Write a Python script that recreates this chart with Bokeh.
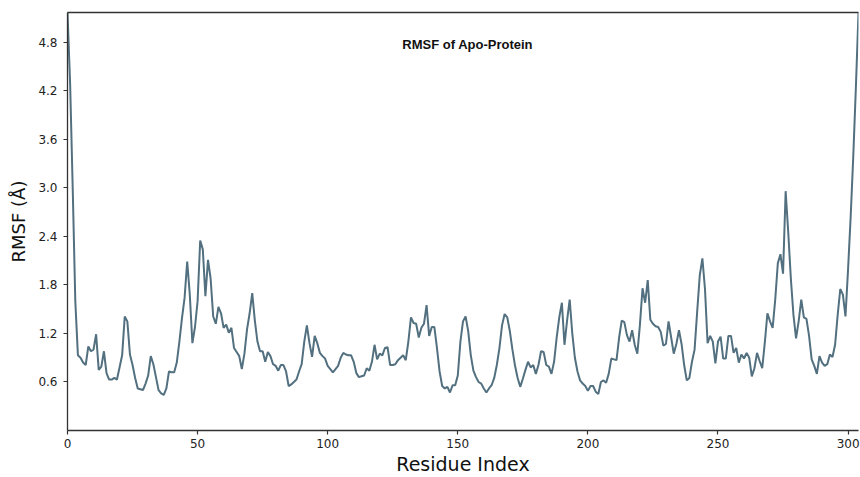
from bokeh.plotting import figure
from bokeh.models import Range1d, FixedTicker, LinearAxis, Label, ColumnDataSource, PrintfTickFormatter
from bokeh.embed import file_html
from bokeh.resources import INLINE

title_text = "RMSF of Apo-Protein"
x_label = "Residue Index"
y_label = "RMSF (Å)"
x_ticks = [0, 50, 100, 150, 200, 250, 300]
y_ticks = [0.6, 1.2, 1.8, 2.4, 3.0, 3.6, 4.2, 4.8]

rmsf = [
    5.17, 4.30, 3.00, 1.60, 0.93, 0.90, 0.84, 0.81, 1.04, 0.98,
    1.00, 1.19, 0.75, 0.79, 0.98, 0.71, 0.63, 0.63, 0.65, 0.63,
    0.78, 0.93, 1.41, 1.35, 0.94, 0.81, 0.65, 0.52, 0.51, 0.50,
    0.58, 0.68, 0.92, 0.82, 0.66, 0.50, 0.46, 0.44, 0.52, 0.73,
    0.72, 0.72, 0.84, 1.10, 1.39, 1.64, 2.09, 1.68, 1.08, 1.28,
    1.60, 2.35, 2.24, 1.66, 2.11, 1.88, 1.41, 1.32, 1.53, 1.45,
    1.27, 1.31, 1.21, 1.27, 1.02, 0.97, 0.92, 0.76, 0.95, 1.25,
    1.45, 1.70, 1.36, 1.10, 0.98, 0.98, 0.85, 0.97, 0.92, 0.82,
    0.80, 0.74, 0.81, 0.81, 0.73, 0.55, 0.57, 0.60, 0.63, 0.73,
    0.82, 1.10, 1.30, 1.08, 0.91, 1.17, 1.08, 0.96, 0.92, 0.89,
    0.80, 0.76, 0.72, 0.76, 0.80, 0.90, 0.96, 0.94, 0.93, 0.93,
    0.85, 0.71, 0.66, 0.67, 0.68, 0.77, 0.74, 0.85, 1.06, 0.88,
    0.95, 0.93, 1.02, 1.03, 0.81, 0.81, 0.82, 0.87, 0.90, 0.93,
    0.87, 1.10, 1.40, 1.33, 1.32, 1.15, 1.27, 1.32, 1.55, 1.17,
    1.28, 1.28, 1.02, 0.73, 0.55, 0.52, 0.54, 0.47, 0.56, 0.56,
    0.68, 1.10, 1.35, 1.41, 1.23, 0.93, 0.74, 0.66, 0.60, 0.58,
    0.52, 0.47, 0.52, 0.56, 0.65, 0.81, 1.02, 1.30, 1.44, 1.40,
    1.23, 1.00, 0.80, 0.65, 0.54, 0.64, 0.75, 0.85, 0.78, 0.81,
    0.70, 0.81, 0.98, 0.97, 0.81, 0.79, 0.70, 0.85, 1.15, 1.40,
    1.58, 1.06, 1.36, 1.62, 1.20, 0.90, 0.73, 0.62, 0.58, 0.55,
    0.49, 0.55, 0.55, 0.48, 0.45, 0.60, 0.62, 0.59, 0.70, 0.89,
    0.88, 0.87, 1.15, 1.36, 1.34, 1.18, 1.10, 1.24, 1.06, 0.95,
    1.31, 1.76, 1.58, 1.86, 1.37, 1.32, 1.29, 1.28, 1.22, 1.05,
    1.07, 1.35, 1.15, 0.95, 1.07, 1.24, 1.07, 0.81, 0.62, 0.65,
    0.85, 1.00, 1.47, 1.92, 2.13, 1.75, 1.08, 1.17, 1.10, 0.83,
    1.10, 1.16, 0.89, 0.89, 1.17, 1.17, 0.96, 1.02, 0.84, 0.94,
    0.89, 0.96, 0.90, 0.67, 0.77, 0.96, 0.86, 0.77, 1.09, 1.45,
    1.35, 1.27, 1.62, 2.07, 2.18, 1.94, 2.96, 2.45, 1.88, 1.43,
    1.14, 1.35, 1.62, 1.40, 1.38, 1.17, 0.88, 0.80, 0.70, 0.92,
    0.84, 0.80, 0.82, 0.94, 0.91, 1.06, 1.43, 1.75, 1.68, 1.41,
    2.00, 2.65, 3.40, 4.25, 5.17,
]
residues = list(range(len(rmsf)))

AX = "#333333"
LINE = "#52707f"

p = figure(width=860, height=477, output_backend="svg", toolbar_location=None,
           x_range=Range1d(0, len(rmsf) - 1), y_range=Range1d(0, max(rmsf)),
           min_border_left=67, min_border_right=2, min_border_top=12, min_border_bottom=45)

src = ColumnDataSource(data=dict(x=residues, y=rmsf))
p.line("x", "y", source=src, line_color=LINE, line_width=2)

p.grid.visible = False
p.outline_line_color = None
p.background_fill_color = "white"
p.border_fill_color = "white"

for ax in (p.xaxis[0], p.yaxis[0]):
    ax.axis_line_color = AX
    ax.axis_line_width = 1.3
    ax.major_tick_line_color = AX
    ax.major_tick_line_width = 1.2
    ax.major_tick_in = 0
    ax.major_tick_out = 4
    ax.minor_tick_line_color = None
    ax.major_label_text_font = "DejaVu Sans"
    ax.major_label_text_font_size = "12px"
    ax.major_label_text_color = "#222222"
    ax.axis_label_text_font = "DejaVu Sans"
    ax.axis_label_text_font_style = "normal"
    ax.axis_label_text_color = "#111111"

p.xaxis.ticker = FixedTicker(ticks=x_ticks)
p.yaxis.ticker = FixedTicker(ticks=y_ticks)
p.yaxis.formatter = PrintfTickFormatter(format="%.1f")
p.xaxis.axis_label = x_label
p.yaxis.axis_label = y_label
p.xaxis.axis_label_text_font_size = "19px"
p.yaxis.axis_label_text_font_size = "18px"
p.xaxis.major_label_standoff = 4
p.yaxis.major_label_standoff = 6
p.xaxis.axis_label_standoff = 2
p.yaxis.axis_label_standoff = 6

top = LinearAxis(axis_line_color=AX, axis_line_width=1.3, major_tick_line_color=None,
                 minor_tick_line_color=None, major_label_text_font_size="0px",
                 major_label_text_color=None)
p.add_layout(top, "above")

p.add_layout(Label(x=153.8, y=4.77, text=title_text, text_font="Liberation Sans",
                   text_font_style="bold", text_font_size="13px", text_align="center",
                   text_baseline="middle", text_color="#111111"))

open("out.html", "w").write(file_html(p, INLINE))
